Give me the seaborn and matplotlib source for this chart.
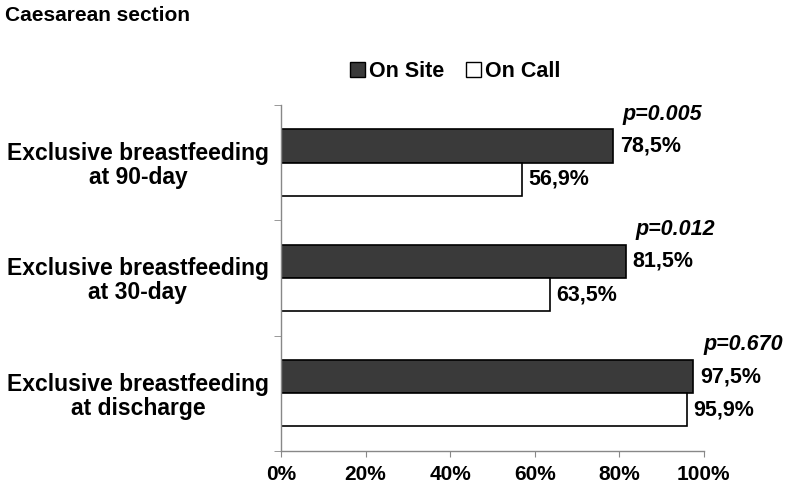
import matplotlib
matplotlib.use("Agg")
import matplotlib.pyplot as plt
import pandas as pd
import seaborn as sns
from matplotlib.patches import Patch

# data
outcomes = ["Exclusive breastfeeding\nat 90-day",
            "Exclusive breastfeeding\nat 30-day",
            "Exclusive breastfeeding\nat discharge"]
on_site = [78.5, 81.5, 97.5]
on_call = [56.9, 63.5, 95.9]
p_values = ["p=0.005", "p=0.012", "p=0.670"]
groups = ["On Site", "On Call"]

df = pd.DataFrame({
    "outcome": outcomes * 2,
    "group": [groups[0]] * 3 + [groups[1]] * 3,
    "value": on_site + on_call,
})

sns.set_style("white")
plt.rcParams["font.family"] = ["Liberation Sans", "DejaVu Sans"]
plt.rcParams["font.weight"] = "bold"
plt.rcParams["text.color"] = "black"
plt.rcParams["xtick.color"] = "black"
plt.rcParams["ytick.color"] = "black"

fig = plt.figure(figsize=(7.86, 4.86), dpi=100)
ax = fig.add_axes([0.3575, 0.072, 0.538, 0.712])

sns.barplot(data=df, y="outcome", x="value", hue="group", order=outcomes,
            hue_order=groups, palette=["#3a3a3a", "white"], orient="h",
            width=0.575, edgecolor="black", linewidth=1.2, legend=False, ax=ax)

ax.set_xlim(0, 100)
ax.set_ylim(2.5, -0.5)
ax.set_xticks([0, 20, 40, 60, 80, 100])
ax.set_xticklabels([f"{t}%" for t in range(0, 101, 20)], fontsize=15, fontweight="bold")
ax.set_yticklabels(outcomes, fontsize=16.5, fontweight="bold", ha="center",
                   linespacing=1.05)
ax.tick_params(axis="y", which="major", left=False, length=0, pad=103)
ax.set_yticks([-0.5, 0.5, 1.5, 2.5], minor=True)
ax.tick_params(axis="y", which="minor", left=True, length=5, color="#888888",
               direction="out")
ax.tick_params(axis="x", bottom=True, length=4, color="#888888",
               direction="out", pad=6)
ax.set_xlabel("")
ax.set_ylabel("")
for s in ["top", "right"]:
    ax.spines[s].set_visible(False)
for s in ["left", "bottom"]:
    ax.spines[s].set_color("#888888")
    ax.spines[s].set_linewidth(1)

# value labels
for cont in ax.containers:
    ax.bar_label(cont, labels=[f"{v:.1f}%".replace(".", ",") for v in cont.datavalues],
                 padding=5, fontsize=15.5, fontweight="bold")

# p-values above the on site bars
for i, p in enumerate(p_values):
    ax.text(on_site[i] + 2.3, i - 0.33, p, fontsize=15.5, fontweight="bold",
            fontstyle="italic", ha="left", va="bottom")

# legend
handles = [Patch(facecolor="#3a3a3a", edgecolor="black"),
           Patch(facecolor="white", edgecolor="black")]
fig.legend(handles, groups, loc="center", bbox_to_anchor=(0.579, 0.852), ncol=2,
           frameon=False, handlelength=0.7, handleheight=0.7,
           handletextpad=0.2, columnspacing=1.0, prop={"weight": "bold", "size": 15.5})

fig.text(0.006, 0.969, "Caesarean section", fontsize=15, fontweight="bold",
         ha="left", va="center")

fig.savefig("out.png", dpi=100)
